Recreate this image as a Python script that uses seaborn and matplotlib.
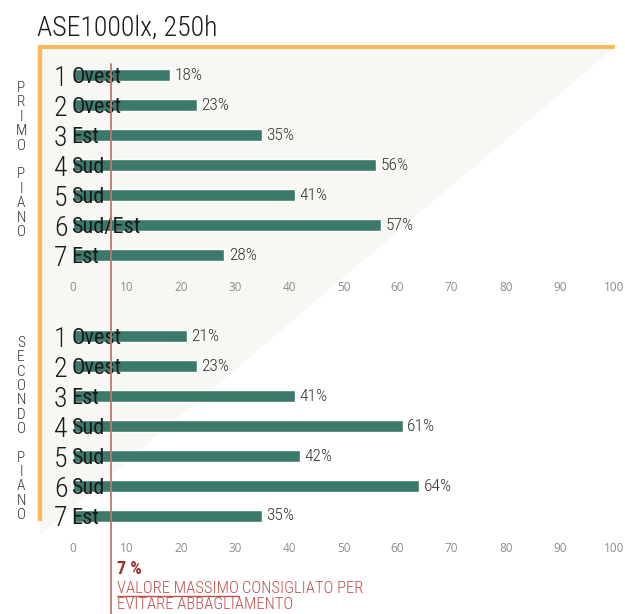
import matplotlib
matplotlib.use("Agg")
import matplotlib.pyplot as plt
import matplotlib.transforms as mtransforms
from matplotlib.lines import Line2D
from matplotlib.patches import Polygon
import seaborn as sns
import pandas as pd

# ---- data -------------------------------------------------------------
ranks = ["1", "2", "3", "4", "5", "6", "7"]
primo_orient = ["Ovest", "Ovest", "Est", "Sud", "Sud", "Sud/Est", "Est"]
primo_values = [18, 23, 35, 56, 41, 57, 28]
secondo_orient = ["Ovest", "Ovest", "Est", "Sud", "Sud", "Sud", "Est"]
secondo_values = [21, 23, 41, 61, 42, 64, 35]
x_ticks = [0, 10, 20, 30, 40, 50, 60, 70, 80, 90, 100]
threshold = 7
title = "ASE1000lx, 250h"

# ---- style ------------------------------------------------------------
sns.set_theme(style="white")
COND = ["Roboto Condensed", "Liberation Sans Narrow", "DejaVu Sans"]
plt.rcParams["font.family"] = COND
BAR = "#3b7a6b"
ORANGE = "#f9b95e"
RED_LINE = "#b97a74"
RED_DARK = "#9e2f33"
RED_TXT = "#c0504d"

W, H = 625, 614
fig = plt.figure(figsize=(W / 100, H / 100), dpi=100)
fig.patch.set_facecolor("white")


def fx(p):
    return p / W


def fy(p):
    return 1 - p / H


# light background wedge behind the chart
fig.add_artist(Polygon([(fx(40), fy(47)), (fx(615), fy(47)), (fx(40), fy(535))],
                       closed=True, transform=fig.transFigure,
                       facecolor="#f7f7f3", edgecolor="none", zorder=0))

# orange frame
fig.add_artist(Line2D([fx(38), fx(615)], [fy(47), fy(47)], transform=fig.transFigure,
                      color=ORANGE, lw=3, solid_capstyle="butt", zorder=1))
fig.add_artist(Line2D([fx(40), fx(40)], [fy(46), fy(521)], transform=fig.transFigure,
                      color=ORANGE, lw=3.2, solid_capstyle="butt", zorder=1))

fig.text(fx(37), fy(36), title, fontsize=20, color="#1a1a1a", ha="left",
         va="baseline", family=COND, fontweight="light")

panels = [
    ("PRIMO PIANO", primo_orient, primo_values, 60, 88, 232),
    ("SECONDO PIANO", secondo_orient, secondo_values, 321, 343, 515),
]

axes = []
for side, orient, values, top_px, s0, s1 in panels:
    ax = fig.add_axes([fx(73), fy(top_px + 210), fx(614) - fx(73), 210 / H])
    ax.set_facecolor("none")
    df = pd.DataFrame({"rank": ranks, "value": values})
    sns.barplot(data=df, x="value", y="rank", orient="h", color=BAR,
                width=0.37, saturation=1, ax=ax, zorder=2)
    ax.set_xlim(0, 100)
    ax.set_ylim(6.5, -0.5)
    ax.set_xticks(x_ticks)
    ax.set_xticklabels([str(t) for t in x_ticks], color="#8c8c8c", fontsize=8.5,
                       family=["Open Sans", "DejaVu Sans"])
    ax.tick_params(axis="x", length=0, pad=8)
    ax.set_yticks([])
    ax.set_xlabel("")
    ax.set_ylabel("")
    for s in ax.spines.values():
        s.set_visible(False)
    ax.bar_label(ax.containers[0], labels=[f"{v}%" for v in values], padding=3,
                 fontsize=12.5, color="#333333", family=COND, fontweight="light")
    for i, (r, name) in enumerate(zip(ranks, orient)):
        ax.annotate(r, xy=(0, i), xytext=(-4, 0), textcoords="offset points",
                    ha="right", va="center_baseline", fontsize=20, color="#1a1a1a",
                    family=COND, fontweight="light", zorder=4)
        ax.text(-0.3, i, name, ha="left", va="center_baseline", fontsize=16,
                color="#1a1a1a", family=COND, zorder=4, clip_on=False)
    # side caption, one letter per line
    letters = list(side)
    step = (s1 - s0) / (len(letters) - 1)
    for k, ch in enumerate(letters):
        if ch != " ":
            fig.text(fx(21), fy(s0 + k * step), ch, ha="center", va="center",
                     fontsize=11, color="#333333", family=COND, fontweight="light")
    axes.append(ax)

# recommended maximum line
trans = mtransforms.blended_transform_factory(axes[0].transData, fig.transFigure)
fig.add_artist(Line2D([threshold, threshold], [fy(64), fy(614)], transform=trans,
                      color=RED_LINE, lw=1.3, zorder=3))

tx = mtransforms.blended_transform_factory(axes[1].transData, fig.transFigure)
off = mtransforms.ScaledTranslation(6 / 100, 0, fig.dpi_scale_trans)
fig.text(threshold, fy(574), f"{threshold} %", transform=tx + off,
         fontsize=13, fontweight="bold", color=RED_DARK, ha="left", va="baseline")
t1 = fig.text(threshold, fy(593), "VALORE MASSIMO", transform=tx + off,
              fontsize=12, color=RED_TXT, ha="left", va="baseline", fontweight="light")
fig.canvas.draw()
bb = t1.get_window_extent(renderer=fig.canvas.get_renderer())
fig.text(bb.x1 / W + 3 / W, fy(593), "CONSIGLIATO PER", fontsize=12, color=RED_TXT,
         ha="left", va="baseline", fontweight="light")
fig.add_artist(Line2D([bb.x0 / W, bb.x1 / W], [fy(596), fy(596)], transform=fig.transFigure,
                      color=RED_TXT, lw=1))
fig.text(threshold, fy(609), "EVITARE ABBAGLIAMENTO", transform=tx + off,
         fontsize=12, color=RED_TXT, ha="left", va="baseline", fontweight="light")

fig.savefig("out.png", dpi=100)
